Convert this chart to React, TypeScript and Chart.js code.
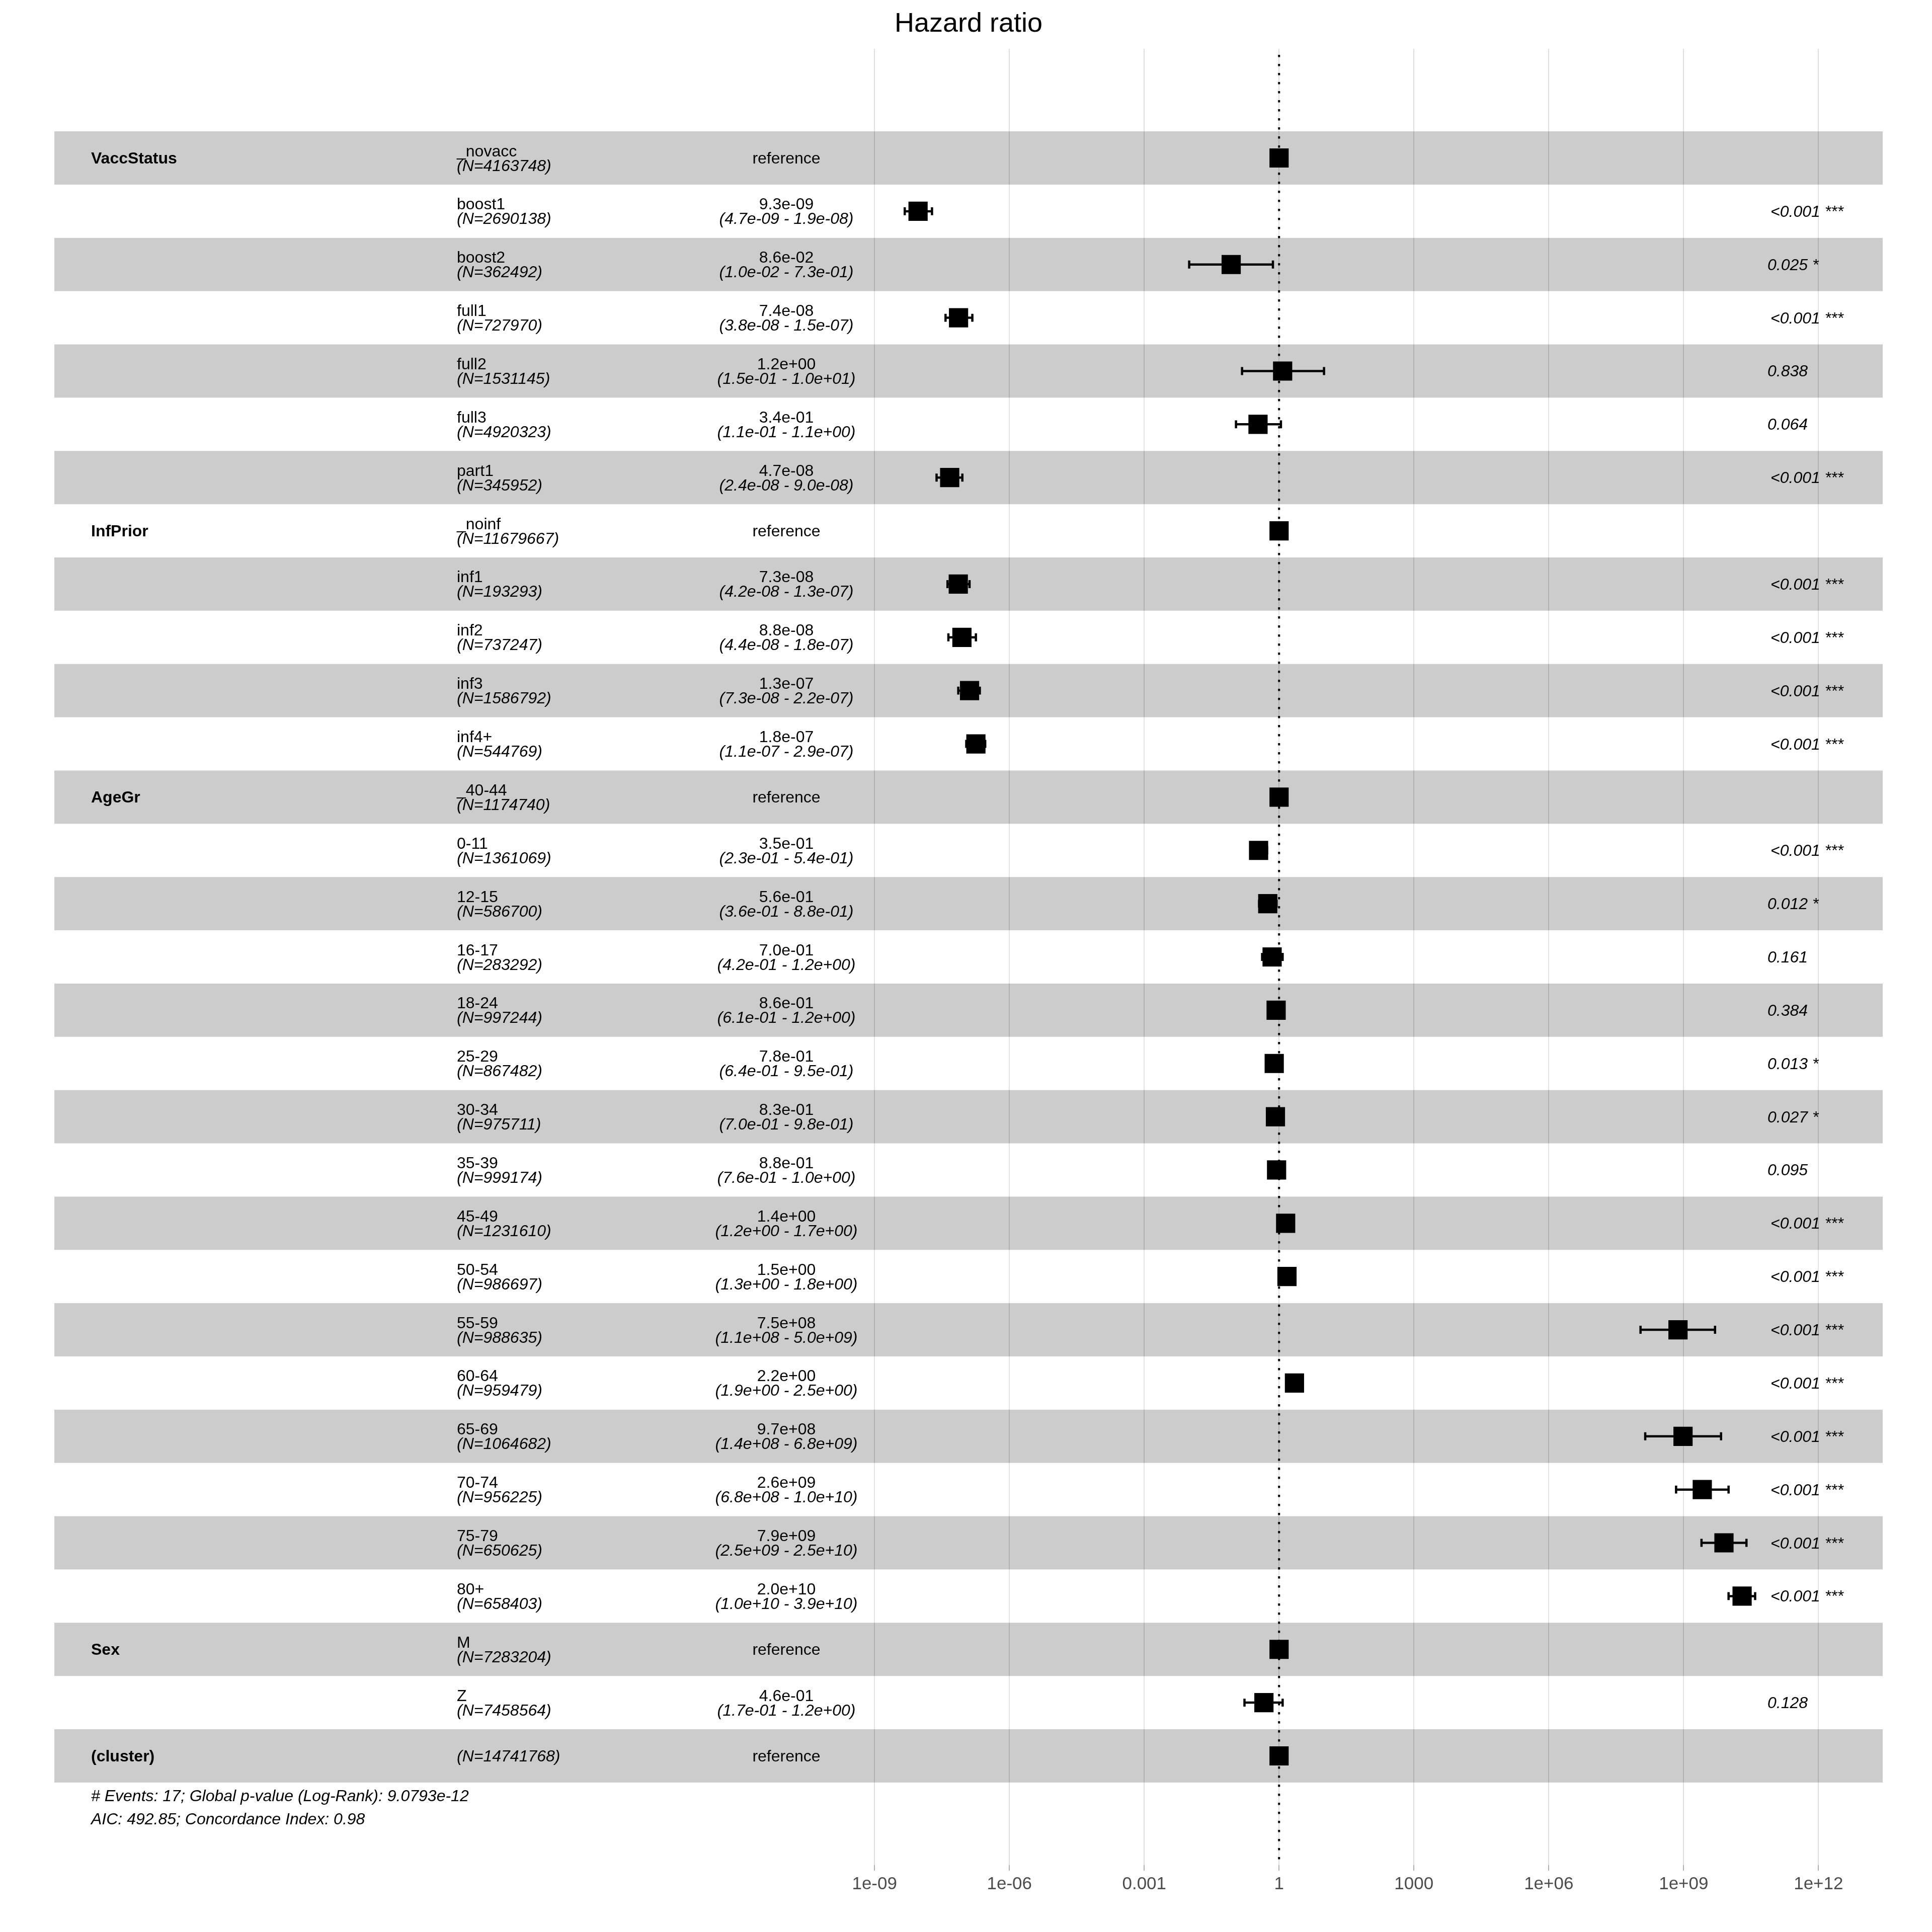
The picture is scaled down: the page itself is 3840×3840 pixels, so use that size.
import React, { useEffect, useRef } from "react";
import { Chart, registerables } from "chart.js";

Chart.register(...registerables);

const variableNames = [
  "VaccStatus", "", "", "", "", "", "",
  "InfPrior", "", "", "", "",
  "AgeGr", "", "", "", "", "", "", "", "", "", "", "", "", "", "", "",
  "Sex", "",
  "(cluster)",
];

const levelNames = [
  "_novacc", "boost1", "boost2", "full1", "full2", "full3", "part1",
  "_noinf", "inf1", "inf2", "inf3", "inf4+",
  "_40-44", "0-11", "12-15", "16-17", "18-24", "25-29", "30-34", "35-39",
  "45-49", "50-54", "55-59", "60-64", "65-69", "70-74", "75-79", "80+",
  "M", "Z",
  "",
];

const sampleSizes = [
  4163748, 2690138, 362492, 727970, 1531145, 4920323, 345952,
  11679667, 193293, 737247, 1586792, 544769,
  1174740, 1361069, 586700, 283292, 997244, 867482, 975711, 999174,
  1231610, 986697, 988635, 959479, 1064682, 956225, 650625, 658403,
  7283204, 7458564,
  14741768,
];

// null = reference level (drawn at HR = 1, no interval)
const hazardRatios: (number | null)[] = [
  null, 9.3e-9, 8.6e-2, 7.4e-8, 1.2, 3.4e-1, 4.7e-8,
  null, 7.3e-8, 8.8e-8, 1.3e-7, 1.8e-7,
  null, 3.5e-1, 5.6e-1, 7.0e-1, 8.6e-1, 7.8e-1, 8.3e-1, 8.8e-1,
  1.4, 1.5, 7.5e8, 2.2, 9.7e8, 2.6e9, 7.9e9, 2.0e10,
  null, 4.6e-1,
  null,
];

const ciLower: (number | null)[] = [
  null, 4.7e-9, 1.0e-2, 3.8e-8, 1.5e-1, 1.1e-1, 2.4e-8,
  null, 4.2e-8, 4.4e-8, 7.3e-8, 1.1e-7,
  null, 2.3e-1, 3.6e-1, 4.2e-1, 6.1e-1, 6.4e-1, 7.0e-1, 7.6e-1,
  1.2, 1.3, 1.1e8, 1.9, 1.4e8, 6.8e8, 2.5e9, 1.0e10,
  null, 1.7e-1,
  null,
];

const ciUpper: (number | null)[] = [
  null, 1.9e-8, 7.3e-1, 1.5e-7, 1.0e1, 1.1, 9.0e-8,
  null, 1.3e-7, 1.8e-7, 2.2e-7, 2.9e-7,
  null, 5.4e-1, 8.8e-1, 1.2, 1.2, 9.5e-1, 9.8e-1, 1.0,
  1.7, 1.8, 5.0e9, 2.5, 6.8e9, 1.0e10, 2.5e10, 3.9e10,
  null, 1.2,
  null,
];

const pValueLabels = [
  "", "<0.001 ***", "0.025 *", "<0.001 ***", "0.838", "0.064", "<0.001 ***",
  "", "<0.001 ***", "<0.001 ***", "<0.001 ***", "<0.001 ***",
  "", "<0.001 ***", "0.012 *", "0.161", "0.384", "0.013 *", "0.027 *", "0.095",
  "<0.001 ***", "<0.001 ***", "<0.001 ***", "<0.001 ***", "<0.001 ***", "<0.001 ***", "<0.001 ***", "<0.001 ***",
  "", "0.128",
  "",
];

const tickValues = [1e-9, 1e-6, 1e-3, 1, 1e3, 1e6, 1e9, 1e12];
const tickLabels = ["1e-09", "1e-06", "0.001", "1", "1000", "1e+06", "1e+09", "1e+12"];

const titleText = "Hazard ratio";
const footerLines = [
  "# Events: 17; Global p-value (Log-Rank): 9.0793e-12",
  "AIC: 492.85; Concordance Index: 0.98",
];

const FONT = '"Liberation Sans", Arial, Helvetica, sans-serif';
const TXT = 32;

function fmtExp(v: number): string {
  return v.toExponential(1).replace(/e([+-])(\d)$/, "e$10$2");
}

// plot range as in ggforest: lower CI minus full span, upper CI plus 15% of span (log space)
const allLo = ciLower.filter((v): v is number => v !== null);
const allHi = ciUpper.filter((v): v is number => v !== null);
const logMin = Math.log10(Math.min(...allLo));
const logMax = Math.log10(Math.max(...allHi));
const span = logMax - logMin;
const X_MIN = Math.pow(10, logMin - span);
const X_MAX = Math.pow(10, logMax + 0.15 * span);

const nRows = levelNames.length;

const forestPlugin = {
  id: "forestDecor",
  beforeDatasetsDraw(chart: any) {
    const { ctx, scales } = chart;
    const x = scales.x;
    const y = scales.y;
    const left = x.getPixelForValue(X_MIN);
    const right = x.getPixelForValue(X_MAX);
    ctx.save();
    for (let i = 0; i < nRows; i++) {
      const top = y.getPixelForValue(i + 0.5);
      const bottom = y.getPixelForValue(i + 1.5);
      ctx.fillStyle = i % 2 === 0 ? "rgba(0,0,0,0.2)" : "rgba(255,255,255,0.2)";
      ctx.fillRect(left, top, right - left, bottom - top);
    }
    ctx.restore();
  },
  afterDatasetsDraw(chart: any) {
    const { ctx, scales, chartArea } = chart;
    const x = scales.x;
    const y = scales.y;
    ctx.save();
    // error bars
    ctx.strokeStyle = "#000000";
    ctx.lineWidth = 4.5;
    ctx.lineCap = "butt";
    for (let i = 0; i < nRows; i++) {
      const lo = ciLower[i];
      const hi = ciUpper[i];
      if (lo === null || hi === null) continue;
      const yc = y.getPixelForValue(i + 1);
      const capHalf = (y.getPixelForValue(i + 1.075) - y.getPixelForValue(i + 0.925)) / 2;
      const x1 = x.getPixelForValue(lo);
      const x2 = x.getPixelForValue(hi);
      ctx.beginPath();
      ctx.moveTo(x1, yc);
      ctx.lineTo(x2, yc);
      ctx.moveTo(x1, yc - capHalf);
      ctx.lineTo(x1, yc + capHalf);
      ctx.moveTo(x2, yc - capHalf);
      ctx.lineTo(x2, yc + capHalf);
      ctx.stroke();
    }
    // dotted reference line at HR = 1
    const x1p = x.getPixelForValue(1);
    ctx.setLineDash([4.5, 13.5]);
    ctx.lineWidth = 4;
    ctx.beginPath();
    ctx.moveTo(x1p, chartArea.top + 12);
    ctx.lineTo(x1p, chartArea.bottom);
    ctx.stroke();
    ctx.setLineDash([]);

    // table text
    const colVar = 181;
    const colLevel = 908;
    const colEst = 1563;
    const colP = 3513;
    ctx.fillStyle = "#000000";
    for (let i = 0; i < nRows; i++) {
      const yc = y.getPixelForValue(i + 1);
      if (variableNames[i]) {
        ctx.font = `bold ${TXT}px ${FONT}`;
        ctx.textAlign = "left";
        ctx.fillText(variableNames[i], colVar, yc + 11);
      }
      ctx.textAlign = "left";
      const nText = `(N=${sampleSizes[i]})`;
      if (levelNames[i]) {
        ctx.font = `${TXT}px ${FONT}`;
        ctx.fillText(levelNames[i], colLevel, yc - 3.5);
        ctx.font = `italic ${TXT}px ${FONT}`;
        ctx.fillText(nText, colLevel, yc + 25.5);
      } else {
        ctx.font = `italic ${TXT}px ${FONT}`;
        ctx.fillText(nText, colLevel, yc + 11);
      }
      ctx.textAlign = "center";
      const hr = hazardRatios[i];
      if (hr === null) {
        ctx.font = `${TXT}px ${FONT}`;
        ctx.fillText("reference", colEst, yc + 11);
      } else {
        ctx.font = `${TXT}px ${FONT}`;
        ctx.fillText(fmtExp(hr), colEst, yc - 3.5);
        ctx.font = `italic ${TXT}px ${FONT}`;
        ctx.fillText(`(${fmtExp(ciLower[i] as number)} - ${fmtExp(ciUpper[i] as number)})`, colEst, yc + 25.5);
      }
      if (pValueLabels[i]) {
        ctx.textAlign = "left";
        ctx.font = `italic ${TXT}px ${FONT}`;
        const pv = pValueLabels[i];
        ctx.fillText(pv, colP + (pv.startsWith("<") ? 6 : 0), yc + 11);
      }
    }
    // footer
    const bandBottom = y.getPixelForValue(nRows + 0.5);
    ctx.textAlign = "left";
    ctx.font = `italic ${TXT}px ${FONT}`;
    ctx.fillText(footerLines[0], colVar, bandBottom + 37);
    ctx.fillText(footerLines[1], colVar, bandBottom + 83);

    // title
    ctx.font = `54px ${FONT}`;
    ctx.textAlign = "center";
    ctx.fillStyle = "#000000";
    ctx.fillText(titleText, (chartArea.left + chartArea.right) / 2, 63);
    ctx.restore();
  },
};

export default function App() {
  const canvasRef = useRef<HTMLCanvasElement | null>(null);

  useEffect(() => {
    const canvas = canvasRef.current;
    if (!canvas) return;
    const points = hazardRatios.map((v, i) => ({ x: v === null ? 1 : v, y: i + 1 }));
    const chart = new Chart(canvas, {
      type: "scatter",
      data: {
        datasets: [
          {
            data: points,
            pointStyle: "rect",
            pointRadius: 27,
            pointHoverRadius: 27,
            backgroundColor: "#000000",
            borderWidth: 0,
            pointBorderWidth: 0,
          },
        ],
      },
      options: {
        animation: false,
        responsive: false,
        devicePixelRatio: 1,
        layout: { padding: { left: 108, right: 98, top: 97, bottom: 0 } },
        plugins: {
          legend: { display: false },
          tooltip: { enabled: false },
          title: { display: false },
        },
        scales: {
          x: {
            type: "logarithmic",
            position: "bottom",
            min: X_MIN,
            max: X_MAX,
            bounds: "data",
            afterBuildTicks: (scale: any) => {
              scale.ticks = tickValues.map((v) => ({ value: v }));
            },
            afterFit: (scale: any) => {
              scale.height = 133;
            },
            grid: {
              color: "#DEDEDE",
              lineWidth: 2,
              drawTicks: true,
              tickLength: 11,
              tickColor: "#B3B3B3",
              tickWidth: 2,
            },
            border: { display: false },
            ticks: {
              autoSkip: false,
              maxRotation: 0,
              minRotation: 0,
              padding: 6,
              color: "#4D4D4D",
              font: { size: 35, family: FONT },
              callback: (_v: any, index: number) => tickLabels[index],
            },
          },
          y: {
            type: "linear",
            display: false,
            reverse: true,
            min: 0.5 - 0.05 * nRows,
            max: nRows + 0.5 + 0.05 * nRows,
            grid: { display: false },
          },
        },
      },
      plugins: [forestPlugin],
    } as any);
    return () => chart.destroy();
  }, []);

  return (
    <div style={{ position: "absolute", left: 0, top: 0, width: 3840, height: 3840, background: "#ffffff" }}>
      <canvas ref={canvasRef} width={3840} height={3840} style={{ width: 3840, height: 3840, display: "block" }} />
    </div>
  );
}
